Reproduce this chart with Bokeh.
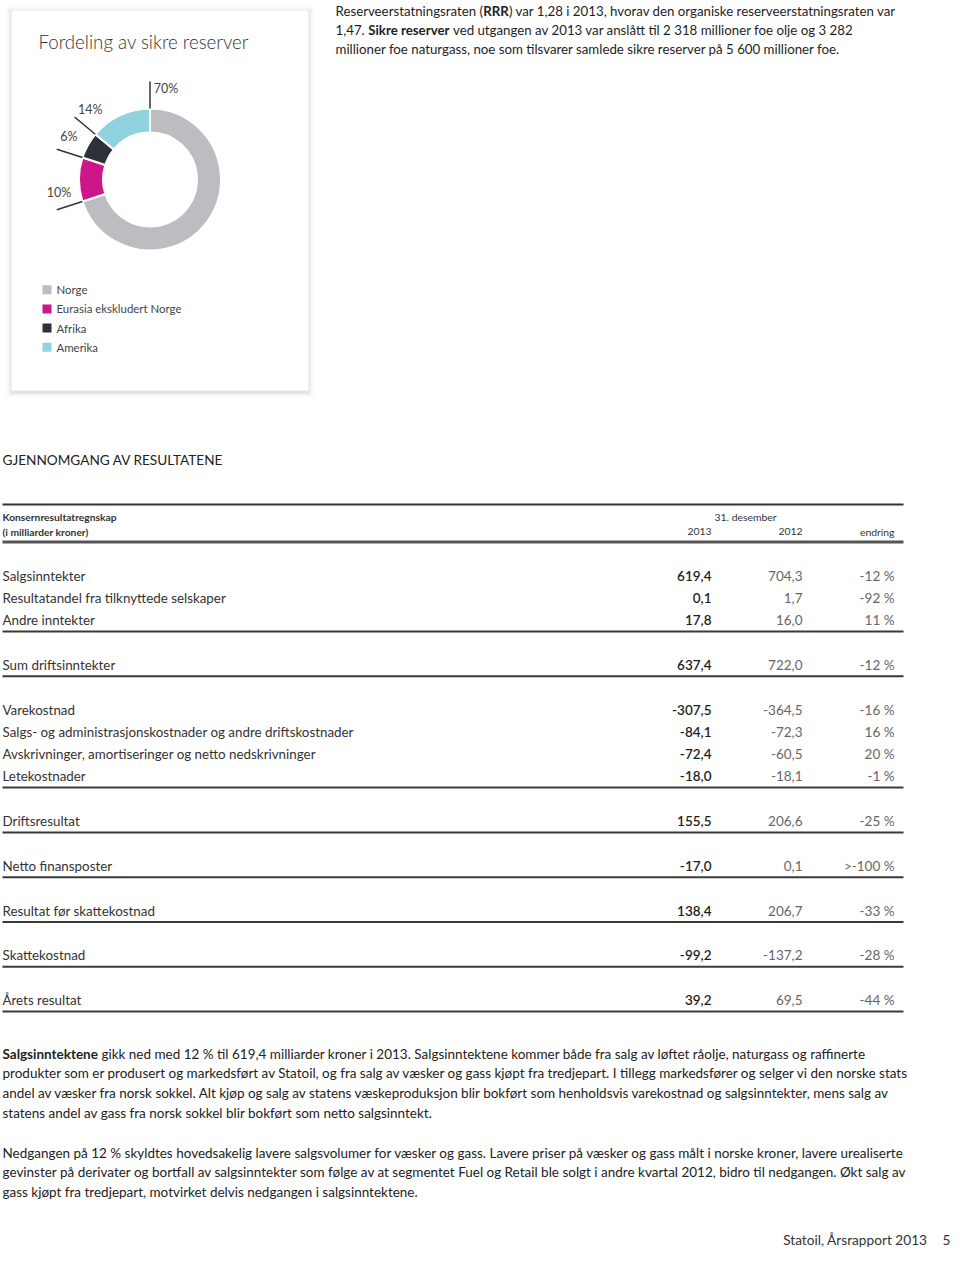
import glob
import math
from bokeh.plotting import figure
from bokeh.models import Range1d
from bokeh.core.properties import value
from bokeh.embed import file_html
from bokeh.resources import INLINE

# ---------------- data ----------------
reserve_regions = ["Norge", "Eurasia ekskludert Norge", "Afrika", "Amerika"]
reserve_share = [70, 10, 6, 14]
reserve_colors = ["#BCBDC1", "#CD168A", "#2D313A", "#90D2DE"]

row_labels = [
    "Salgsinntekter",
    "Resultatandel fra tilknyttede selskaper",
    "Andre inntekter",
    "Sum driftsinntekter",
    "Varekostnad",
    "Salgs- og administrasjonskostnader og andre driftskostnader",
    "Avskrivninger, amortiseringer og netto nedskrivninger",
    "Letekostnader",
    "Driftsresultat",
    "Netto finansposter",
    "Resultat før skattekostnad",
    "Skattekostnad",
    "Årets resultat",
]
values_2013 = [619.4, 0.1, 17.8, 637.4, -307.5, -84.1, -72.4, -18.0, 155.5, -17.0, 138.4, -99.2, 39.2]
values_2012 = [704.3, 1.7, 16.0, 722.0, -364.5, -72.3, -60.5, -18.1, 206.6, 0.1, 206.7, -137.2, 69.5]
change_labels = ["-12 %", "-92 %", "11 %", "-12 %", "-16 %", "16 %", "20 %", "-1 %",
                 "-25 %", ">-100 %", "-33 %", "-28 %", "-44 %"]
row_groups = [0, 0, 0, 1, 2, 2, 2, 2, 3, 4, 5, 6, 7]
column_headers = ["2013", "2012", "endring"]

card_title = "Fordeling av sikre reserver"
section_title = "GJENNOMGANG AV RESULTATENE"
table_title = ["Konsernresultatregnskap", "(i milliarder kroner)"]
date_header = "31. desember"

intro_lines = [
    [("Reserveerstatningsraten (", "n"), ("RRR", "b"),
     (") var 1,28 i 2013, hvorav den organiske reserveerstatningsraten var", "n")],
    [("1,47.", "n"), ("Sikre reserver", "b"),
     ("ved utgangen av 2013 var anslått til 2 318 millioner foe olje og 3 282", "n")],
    [("millioner foe naturgass, noe som tilsvarer samlede sikre reserver på 5 600 millioner foe.", "n")],
]
para1 = [
    [("Salgsinntektene", "b"),
     ("gikk ned med 12 % til 619,4 milliarder kroner i 2013. Salgsinntektene kommer både fra salg av løftet råolje, naturgass og raffinerte", "n")],
    [("produkter som er produsert og markedsført av Statoil, og fra salg av væsker og gass kjøpt fra tredjepart. I tillegg markedsfører og selger vi den norske stats", "n")],
    [("andel av væsker fra norsk sokkel. Alt kjøp og salg av statens væskeproduksjon blir bokført som henholdsvis varekostnad og salgsinntekter, mens salg av", "n")],
    [("statens andel av gass fra norsk sokkel blir bokført som netto salgsinntekt.", "n")],
]
para2 = [
    [("Nedgangen på 12 % skyldtes hovedsakelig lavere salgsvolumer for væsker og gass. Lavere priser på væsker og gass målt i norske kroner, lavere urealiserte", "n")],
    [("gevinster på derivater og bortfall av salgsinntekter som følge av at segmentet Fuel og Retail ble solgt i andre kvartal 2012, bidro til nedgangen. Økt salg av", "n")],
    [("gass kjøpt fra tredjepart, motvirket delvis nedgangen i salgsinntektene.", "n")],
]
footer_text = "Statoil, Årsrapport 2013"
footer_page = "5"

# ---------------- font measuring ----------------
def _find(name):
    for root in ("/usr/share/fonts", "/usr/local/share/fonts", "/root/.fonts"):
        hits = glob.glob(f"{root}/**/{name}", recursive=True)
        if hits:
            return hits[0]
    return None

try:
    from PIL import ImageFont
except Exception:
    ImageFont = None

FONT_FILES = {
    "n": _find("Lato-Regular.ttf"),
    "b": _find("Lato-Bold.ttf"),
    "l": _find("Lato-Light.ttf"),
    "s": _find("Lato-Semibold.ttf"),
}
_fonts = {}


def measure(s, size, kind="n"):
    path = FONT_FILES.get(kind) or FONT_FILES.get("n")
    if ImageFont is not None and path:
        try:
            if path not in _fonts:
                _fonts[path] = ImageFont.truetype(path, 100)
            return _fonts[path].getlength(s) * size / 100.0
        except Exception:
            pass
    return len(s) * size * (0.53 if kind == "b" else 0.49)


def fit(pieces, target, default):
    w = sum(measure(t, 100, k) for t, k in pieces) + measure(" ", 100) * (len(pieces) - 1)
    s = 100.0 * target / w if w > 0 else default
    return max(default * 0.8, min(default * 1.2, s))


LIGHT = "Lato Light, Lato" if FONT_FILES["l"] else "Lato"
SEMI = "Lato Semibold, Lato" if FONT_FILES["s"] else "Lato"

# ---------------- figure ----------------
W, H = 952, 1249
p = figure(width=W, height=H, x_range=Range1d(0, W), y_range=Range1d(0, H),
           output_backend="svg", toolbar_location=None, min_border=0,
           x_axis_location=None, y_axis_location=None)
p.xgrid.visible = False
p.ygrid.visible = False
p.outline_line_color = None
p.background_fill_color = "white"
p.border_fill_color = "white"


def Y(ry):
    return H - ry


def txt(x, ry, s, size, color="#222", font="Lato", style="normal", align="left"):
    p.text(x=[x], y=[Y(ry)], text=[s], text_font=value(font), text_font_size=f"{size:.2f}px",
           text_color=color, text_font_style=style, text_align=align, text_baseline="middle")


def rich(x, ry, pieces, size, color="#222", space=True):
    cx_ = x
    for t, k in pieces:
        txt(cx_, ry, t, size, color, "Lato", "bold" if k == "b" else "normal")
        cx_ += measure(t, size, k) + (measure(" ", size) if space else 0)


LEFT = 2

# ---------------- card with donut ----------------
cl, cr, ct, cb = 11, 308, 10, 390
for k, a in enumerate([0.035, 0.028, 0.02, 0.014, 0.009, 0.006]):
    d = k + 1
    p.quad(left=[cl - d], right=[cr + d], top=[Y(ct - d + 1.5)], bottom=[Y(cb + d + 1.5)],
           fill_color="black", fill_alpha=a, line_color=None)
p.quad(left=[cl], right=[cr], top=[Y(ct)], bottom=[Y(cb)], fill_color="white", line_color=None)

txt(38, 41, card_title, fit([(card_title, "l" if FONT_FILES["l"] else "n")], 210, 19), "#333", LIGHT)

cx, cy, r_out, r_in = 149.5, 179, 71, 47
starts, ends, bounds = [], [], []
cum = 0
for share in reserve_share:
    a_end = 90 - 360 * cum / 100
    cum += share
    a_start = 90 - 360 * cum / 100
    starts.append(math.radians(a_start))
    ends.append(math.radians(a_end))
    bounds.append(math.radians(a_end))
p.annular_wedge(x=[cx] * 4, y=[Y(cy)] * 4, inner_radius=r_in, outer_radius=r_out,
                start_angle=starts, end_angle=ends, fill_color=reserve_colors,
                line_color="white", line_width=2)
lx0 = [cx + r_out * math.cos(b) for b in bounds]
ly0 = [Y(cy) + r_out * math.sin(b) for b in bounds]
lx1 = [cx + 98 * math.cos(b) for b in bounds]
ly1 = [Y(cy) + 98 * math.sin(b) for b in bounds]
p.segment(x0=lx0, y0=ly0, x1=lx1, y1=ly1, line_color="#333", line_width=1.5)
tx = [cx + 92 * math.cos(b - math.radians(10)) for b in bounds]
ty = [Y(cy) + 92 * math.sin(b - math.radians(10)) for b in bounds]
p.text(x=tx, y=ty, text=[f"{s}%" for s in reserve_share], text_font=value("Lato"),
       text_font_size="12.5px", text_color="#444", text_align="center", text_baseline="middle")

leg_size = fit([("Eurasia ekskludert Norge", "n")], 125, 12.5)
for i, (name, col) in enumerate(zip(reserve_regions, reserve_colors)):
    yy = 289.3 + i * 19.15
    p.quad(left=[42], right=[51], top=[Y(yy - 4.5)], bottom=[Y(yy + 4.5)],
           fill_color=col, line_color=None)
    txt(56, yy, name, leg_size, "#444")

# ---------------- intro text ----------------
intro_size = fit(intro_lines[0], 567, 13)
for li, pieces in enumerate(intro_lines):
    ry = 10 + li * 19
    rich(335, ry, pieces, intro_size, "#1e1e1e", space=(li != 0))

# ---------------- section heading ----------------
txt(LEFT, 459, section_title, fit([(section_title, "n")], 220, 14), "#222")

# ---------------- table ----------------
tr = 903
p.segment(x0=[LEFT], y0=[Y(504)], x1=[tr], y1=[Y(504)], line_color="#333", line_width=2)
p.segment(x0=[LEFT], y0=[Y(541.5)], x1=[tr], y1=[Y(541.5)], line_color="#555", line_width=3)
hsize = fit([(table_title[0], "b")], 114, 10.5)
txt(LEFT, 516.5, table_title[0], hsize, "#333", "Lato", "bold")
txt(LEFT, 531, table_title[1], hsize, "#333", "Lato", "bold")
col_right = [711, 802, 894]
hsize2 = fit([(date_header, "n")], 62, 10.5)
txt(745, 516.5, date_header, hsize2, "#333", align="center")
for h, xr in zip(column_headers, col_right):
    txt(xr, 531, h, hsize2, "#333", align="right")

label_size = fit([(row_labels[5], "n")], 351, 13)
row_y = []
line_y = []
yy = 575.0
for i, g in enumerate(row_groups):
    if i > 0:
        if g == row_groups[i - 1]:
            yy += 22.2
        else:
            yy = line_y[-1] + 33.3
    row_y.append(yy)
    if i == len(row_groups) - 1 or row_groups[i + 1] != g:
        line_y.append(yy + 11.5)


def fmt(v):
    return f"{v:.1f}".replace(".", ",")


lab_y = [Y(v) for v in row_y]
p.text(x=[LEFT] * len(row_labels), y=lab_y, text=row_labels, text_font=value("Lato"),
       text_font_size=f"{label_size:.2f}px", text_color="#333", text_baseline="middle")
p.text(x=[col_right[0]] * len(values_2013), y=lab_y, text=[fmt(v) for v in values_2013],
       text_font=value(SEMI), text_font_size="13.5px", text_color="#1e1e1e",
       text_align="right", text_baseline="middle")
p.text(x=[col_right[1]] * len(values_2012), y=lab_y, text=[fmt(v) for v in values_2012],
       text_font=value("Lato"), text_font_size="13.5px", text_color="#666",
       text_align="right", text_baseline="middle")
p.text(x=[col_right[2]] * len(change_labels), y=lab_y, text=change_labels,
       text_font=value("Lato"), text_font_size="13.5px", text_color="#666",
       text_align="right", text_baseline="middle")
p.segment(x0=[LEFT] * len(line_y), y0=[Y(v) for v in line_y], x1=[tr] * len(line_y),
          y1=[Y(v) for v in line_y], line_color="#3a3a3a", line_width=2)

# ---------------- paragraphs ----------------
para_size = fit(para1[0], 863, 13)
for i, pieces in enumerate(para1):
    rich(LEFT, 1053 + i * 19.7, pieces, para_size, "#222")
for i, pieces in enumerate(para2):
    rich(LEFT, 1152 + i * 19.7, pieces, para_size, "#222")

# ---------------- footer ----------------
fsize = fit([(footer_text, "n")], 144, 15)
txt(927, 1239, footer_text, fsize, "#333", align="right")
txt(950, 1239, footer_page, fsize, "#333", align="right")

open("out.html", "w").write(file_html(p, INLINE))
